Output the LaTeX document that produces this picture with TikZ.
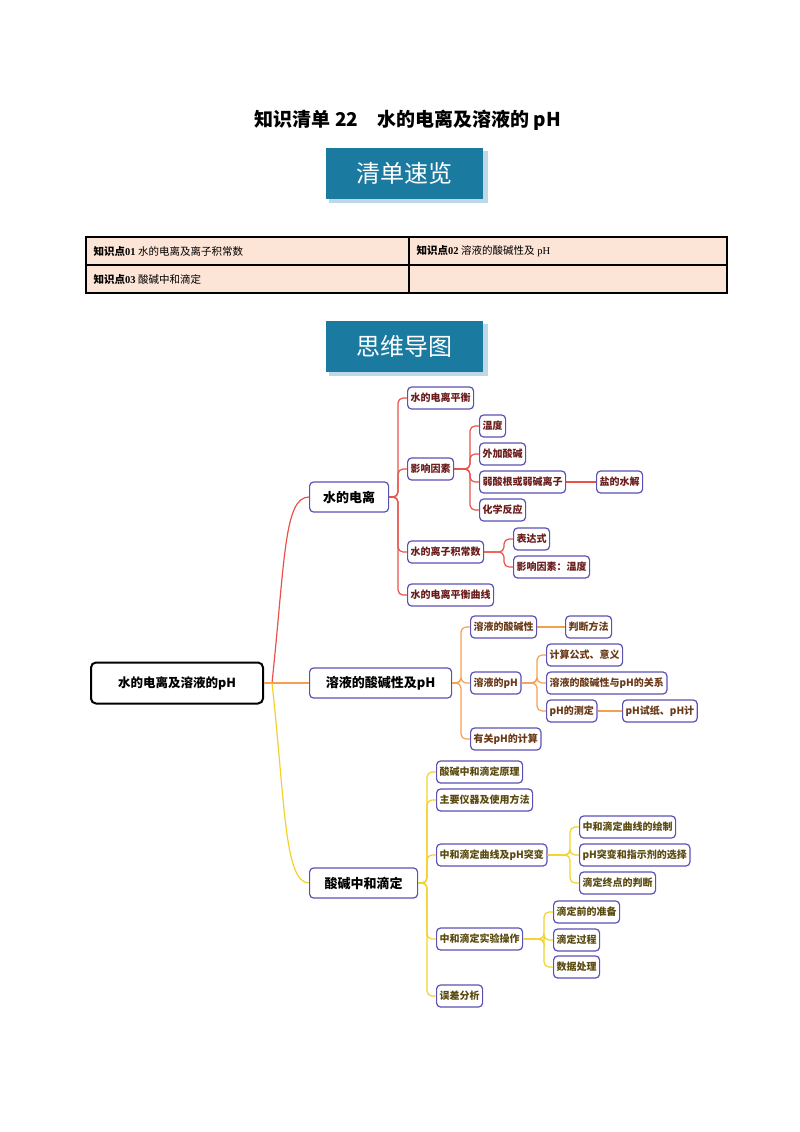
\documentclass[tikz,border=0pt]{standalone}
\usepackage{fontspec}
\setmainfont{Liberation Serif}
\newfontfamily\cjk{Noto Sans CJK SC}
\newcommand\cjkb{\cjk\bfseries}
\begin{document}
\begin{tikzpicture}[x=1pt,y=-1pt,
  mbox/.style={draw=boxc,line width=1.2pt,rounded corners=4pt,fill=white,inner xsep=3pt,minimum height=22pt,anchor=west,font=\cjkb\fontsize{10}{12}\selectfont},
  bxr/.style={mbox,text=t1}, bxo/.style={mbox,text=t2}, bxy/.style={mbox,text=t3},
  big/.style={mbox,minimum height=30pt,inner xsep=6pt,text=black,font=\cjkb\fontsize{13}{15}\selectfont},
  le/.style={draw=lr,line width=1.2pt,rounded corners=5pt},
  lo/.style={draw=lor,line width=1.2pt,rounded corners=5pt},
  lyy/.style={draw=lyc,line width=1.2pt,rounded corners=5pt},
  banner/.style={fill=ban,text=white,minimum width=157pt,minimum height=51pt,font=\cjk\fontsize{24}{26}\selectfont},
  cell/.style={anchor=west,font=\fontsize{10.5}{12}\selectfont}
]
\definecolor{boxc}{HTML}{5B50B4}
\definecolor{t1}{HTML}{6A1B1B}
\definecolor{t2}{HTML}{6B3A1A}
\definecolor{t3}{HTML}{5A4A10}
\definecolor{lr}{HTML}{E8524A}
\definecolor{lor}{HTML}{F5A050}
\definecolor{lyc}{HTML}{F2D22A}
\definecolor{ban}{HTML}{1A7AA0}
\definecolor{shd}{HTML}{BFD8E6}
\definecolor{peach}{HTML}{FCE4D6}
\useasboundingbox (0,0) rectangle (800,1132);
% title
\node (title) at (408,120) {\cjkb\fontsize{19}{21}\selectfont 知识清单 22\quad 水的电离及溶液的 pH};
% banners
\fill[shd] (329,151) rectangle (488,203);
\node[banner] (b1) at (404,173) {清单速览};
\fill[shd] (329,324) rectangle (488,376);
\node[banner] (b2) at (404,346) {思维导图};
% table
\filldraw[fill=peach,draw=black,line width=1.5pt] (86,237) rectangle (727,293);
\draw[line width=1.5pt] (86,265) -- (727,265) (409,237) -- (409,293);
\node[cell] (c1) at (90,251) {{\cjkb 知识点}\textbf{01} {\cjk 水的电离及离子积常数}};
\node[cell] (c2) at (413,251) {{\cjkb 知识点}\textbf{02} {\cjk 溶液的酸碱性及} pH};
\node[cell] (c3) at (90,279) {{\cjkb 知识点}\textbf{03} {\cjk 酸碱中和滴定}};
% root
\node[draw=black,line width=2pt,rounded corners=5pt,minimum width=172pt,minimum height=41pt,font=\cjkb\fontsize{12.5}{14}\selectfont] (root) at (177,683) {水的电离及溶液的pH};
% level 1
\node[big,minimum width=79pt] (A) at (309,497) {水的电离};
\node[big,minimum width=142pt] (B) at (309,683) {溶液的酸碱性及pH};
\node[big,minimum width=108pt] (C) at (309,883) {酸碱中和滴定};
\draw[lr,line width=1.2pt] (root.east) -- (272,683) .. controls (285,560) and (284,497) .. (A.west);
\draw[lor,line width=1.2pt] (root.east) -- (B.west);
\draw[lyc,line width=1.2pt] (272,683) .. controls (285,800) and (284,883) .. (C.west);
% branch A
\node[bxr] (A1) at (407,398) {水的电离平衡};
\node[bxr] (A2) at (407,469) {影响因素};
\node[bxr] (A3) at (407,552) {水的离子积常数};
\node[bxr] (A4) at (407,595) {水的电离平衡曲线};
\foreach \n in {A1,A2,A3,A4} \draw[le] (\n.west) -- ++(-9,0) |- (A.east);
\node[bxr] (A21) at (479,426) {温度};
\node[bxr] (A22) at (479,454) {外加酸碱};
\node[bxr] (A23) at (479,482) {弱酸根或弱碱离子};
\node[bxr] (A24) at (479,510) {化学反应};
\foreach \n in {A21,A22,A23,A24} \draw[le] (\n.west) -- ++(-9,0) |- (A2.east);
\node[bxr] (A231) at (596,482) {盐的水解};
\draw[le] (A23.east) -- (A231.west);
\node[bxr] (A31) at (513,539) {表达式};
\node[bxr] (A32) at (513,567) {影响因素：温度};
\foreach \n in {A31,A32} \draw[le] (\n.west) -- ++(-9,0) |- (A3.east);
% branch B
\node[bxo] (B1) at (470,627) {溶液的酸碱性};
\node[bxo] (B2) at (470,683) {溶液的pH};
\node[bxo] (B3) at (470,739) {有关pH的计算};
\foreach \n in {B1,B2,B3} \draw[lo] (\n.west) -- ++(-9,0) |- (B.east);
\node[bxo] (B11) at (565,627) {判断方法};
\draw[lo] (B1.east) -- (B11.west);
\node[bxo] (B21) at (546,655) {计算公式、意义};
\node[bxo] (B22) at (546,683) {溶液的酸碱性与pH的关系};
\node[bxo] (B23) at (546,711) {pH的测定};
\foreach \n in {B21,B22,B23} \draw[lo] (\n.west) -- ++(-9,0) |- (B2.east);
\node[bxo] (B231) at (622,711) {pH试纸、pH计};
\draw[lo] (B23.east) -- (B231.west);
% branch C
\node[bxy] (C1) at (436,772) {酸碱中和滴定原理};
\node[bxy] (C2) at (436,800) {主要仪器及使用方法};
\node[bxy] (C3) at (436,855) {中和滴定曲线及pH突变};
\node[bxy] (C4) at (436,939) {中和滴定实验操作};
\node[bxy] (C5) at (436,996) {误差分析};
\foreach \n in {C1,C2,C3,C4,C5} \draw[lyy] (\n.west) -- ++(-9,0) |- (C.east);
\node[bxy] (C31) at (579,827) {中和滴定曲线的绘制};
\node[bxy] (C32) at (579,855) {pH突变和指示剂的选择};
\node[bxy] (C33) at (579,883) {滴定终点的判断};
\foreach \n in {C31,C32,C33} \draw[lyy] (\n.west) -- ++(-9,0) |- (C3.east);
\node[bxy] (C41) at (553,912) {滴定前的准备};
\node[bxy] (C42) at (553,940) {滴定过程};
\node[bxy] (C43) at (553,967) {数据处理};
\foreach \n in {C41,C42,C43} \draw[lyy] (\n.west) -- ++(-9,0) |- (C4.east);
\end{tikzpicture}
\end{document}
